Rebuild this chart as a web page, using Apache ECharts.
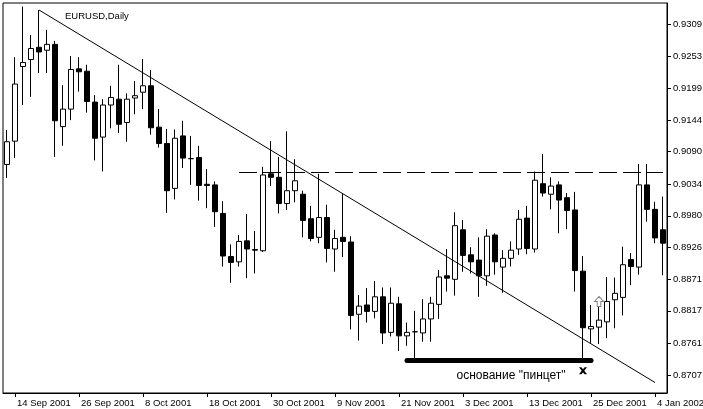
<!DOCTYPE html>
<html>
<head>
<meta charset="utf-8">
<script src="https://cdn.jsdelivr.net/npm/echarts@6/dist/echarts.min.js"></script>
<style>
html,body{margin:0;padding:0;background:#fff;}
#chart{width:703px;height:409px;}
</style>
</head>
<body>
<div id="chart"></div>
<script>
// Trading days
const dates = [
 "13 Sep 2001","14 Sep 2001","17 Sep 2001","18 Sep 2001","19 Sep 2001","20 Sep 2001","21 Sep 2001","24 Sep 2001","25 Sep 2001","26 Sep 2001","27 Sep 2001","28 Sep 2001",
 "1 Oct 2001","2 Oct 2001","3 Oct 2001","4 Oct 2001","5 Oct 2001","8 Oct 2001","9 Oct 2001","10 Oct 2001","11 Oct 2001","12 Oct 2001","15 Oct 2001","16 Oct 2001","17 Oct 2001","18 Oct 2001","19 Oct 2001","22 Oct 2001","23 Oct 2001","24 Oct 2001","25 Oct 2001","26 Oct 2001","29 Oct 2001","30 Oct 2001","31 Oct 2001",
 "1 Nov 2001","2 Nov 2001","5 Nov 2001","6 Nov 2001","7 Nov 2001","8 Nov 2001","9 Nov 2001","12 Nov 2001","13 Nov 2001","14 Nov 2001","15 Nov 2001","16 Nov 2001","19 Nov 2001","20 Nov 2001","21 Nov 2001","22 Nov 2001","23 Nov 2001","26 Nov 2001","27 Nov 2001","28 Nov 2001","29 Nov 2001","30 Nov 2001",
 "3 Dec 2001","4 Dec 2001","5 Dec 2001","6 Dec 2001","7 Dec 2001","10 Dec 2001","11 Dec 2001","12 Dec 2001","13 Dec 2001","14 Dec 2001","17 Dec 2001","18 Dec 2001","19 Dec 2001","20 Dec 2001","21 Dec 2001","24 Dec 2001","25 Dec 2001","26 Dec 2001","27 Dec 2001","28 Dec 2001","31 Dec 2001",
 "1 Jan 2002","2 Jan 2002","3 Jan 2002","4 Jan 2002","7 Jan 2002"
];
const opens = [
 0.9068,0.9108,0.9236,0.9248,0.9269,0.9264,0.9274,0.9133,0.9163,0.9232,0.9228,0.9175,
 0.9115,0.9170,0.9180,0.9140,0.9182,0.9192,0.9203,0.9132,0.9104,0.9027,0.9117,0.9078,0.9080,0.9034,0.9033,0.8984,0.8910,0.8901,0.8937,0.8922,0.8920,0.9052,0.9046,
 0.9001,0.9023,0.9017,0.8975,0.8943,0.8977,0.8923,0.8943,0.8935,0.8811,0.8827,0.8816,0.8841,0.8780,0.8829,0.8774,0.8781,0.8779,0.8803,0.8828,0.8877,0.8871,
 0.8956,0.8913,0.8904,0.8877,0.8947,0.8892,0.8907,0.8923,0.8976,0.8923,0.9035,0.9017,0.9033,0.9011,0.8990,0.8885,0.8786,0.8789,0.8798,0.8836,0.8840,
 0.8905,0.8892,0.9033,0.8991,0.8956
];
const closes = [
 0.9107,0.9206,0.9243,0.9267,0.9261,0.9274,0.9143,0.9163,0.9231,0.9227,0.9176,0.9113,
 0.9170,0.9183,0.9137,0.9180,0.9186,0.9203,0.9131,0.9104,0.9023,0.9113,0.9079,0.9078,0.9032,0.9032,0.8987,0.8911,0.8900,0.8936,0.8923,0.8921,0.9050,0.9046,0.9001,
 0.9023,0.9040,0.8972,0.8941,0.8977,0.8924,0.8941,0.8936,0.8809,0.8825,0.8816,0.8841,0.8779,0.8830,0.8774,0.8780,0.8781,0.8803,0.8830,0.8875,0.8873,0.8963,
 0.8912,0.8901,0.8877,0.8945,0.8901,0.8907,0.8921,0.8974,0.8924,0.9041,0.9019,0.9031,0.9007,0.8989,0.8886,0.8788,0.8790,0.8801,0.8833,0.8847,0.8896,
 0.8893,0.9033,0.8991,0.8942,0.8933
];
const lows = [
 0.9045,0.9079,0.9170,0.9184,0.9225,0.9225,0.9081,0.9100,0.9144,0.9193,0.9157,0.9075,
 0.9056,0.9130,0.9122,0.9107,0.9154,0.9163,0.9119,0.9097,0.8985,0.9008,0.9062,0.9033,0.9006,0.8993,0.8961,0.8893,0.8865,0.8893,0.8873,0.8881,0.8918,0.9031,0.8984,
 0.8990,0.9003,0.8943,0.8936,0.8933,0.8900,0.8884,0.8909,0.8785,0.8766,0.8797,0.8804,0.8760,0.8773,0.8748,0.8757,0.8734,0.8764,0.8764,0.8803,0.8850,0.8843,
 0.8884,0.8881,0.8841,0.8860,0.8879,0.8848,0.8893,0.8913,0.8914,0.8917,0.9013,0.8991,0.8950,0.8957,0.8850,0.8734,0.8762,0.8760,0.8770,0.8787,0.8809,
 0.8861,0.8879,0.8970,0.8933,0.8878
];
const highs = [
 0.9127,0.9252,0.9339,0.9290,0.9333,0.9299,0.9280,0.9204,0.9254,0.9252,0.9239,0.9187,
 0.9180,0.9203,0.9239,0.9190,0.9211,0.9249,0.9230,0.9163,0.9129,0.9128,0.9143,0.9117,0.9100,0.9060,0.9039,0.9005,0.8931,0.8947,0.8983,0.8954,0.9064,0.9108,0.9081,
 0.9125,0.9077,0.9023,0.8997,0.9052,0.8999,0.8956,0.9019,0.8945,0.8844,0.8856,0.8868,0.8857,0.8857,0.8841,0.8797,0.8817,0.8837,0.8841,0.8887,0.8923,0.8986,
 0.8973,0.8926,0.8943,0.8957,0.8950,0.8921,0.8936,0.8990,0.8997,0.9056,0.9086,0.9046,0.9039,0.9019,0.9021,0.8911,0.8827,0.8824,0.8875,0.8874,0.8927,
 0.8916,0.9069,0.9069,0.9004,0.9013
];
const priceTicks = [0.9309,0.9253,0.9199,0.9144,0.9090,0.9034,0.8980,0.8926,0.8871,0.8817,0.8761,0.8707];
const yMin = 0.8676, yMax = 0.9345;

// annotations
const trendStart = ["19 Sep 2001", 0.9333];
const trendEnd = ["4 Jan 2002", 0.8694];
const resistanceLevel = 0.9055;
const resistanceFrom = "24 Oct 2001", resistanceTo = "7 Jan 2002";
const supportLevel = 0.8732;
const supportFrom = "22 Nov 2001", supportTo = "25 Dec 2001";
const noteText = 'основание "пинцет"';
const notePos = ["11 Dec 2001", 0.8705];
const crossPos = ["24 Dec 2001", 0.8714];
const arrowPos = ["26 Dec 2001", 0.8833];
const titleText = "EURUSD,Daily";

const candleData = dates.map((d, i) => [opens[i], closes[i], lows[i], highs[i]]);
const uiFont = "'Liberation Sans',Arial,sans-serif";

const chart = echarts.init(document.getElementById('chart'), null, {renderer: 'canvas'});
chart.setOption({
  animation: false,
  backgroundColor: '#fff',
  title: {
    text: titleText, left: 60, top: 6,
    textStyle: {fontSize: 9.5, fontWeight: 'normal', color: '#000', fontFamily: uiFont}
  },
  grid: {left: 3, right: 36, top: 3, bottom: 16, show: true, borderColor: '#000', borderWidth: 1,
         backgroundColor: '#fff', containLabel: false, outerBoundsMode: 'none'},
  xAxis: {
    type: 'category', data: dates, boundaryGap: true,
    axisLine: {show: true, lineStyle: {color: '#000', width: 1}},
    axisTick: {show: true, alignWithLabel: true, length: 4, interval: (i) => i % 8 === 1, lineStyle: {color: '#000'}},
    axisLabel: {show: true, interval: (i) => i % 8 === 1, align: 'left', margin: 5, padding: [0,0,0,2],
                color: '#000', fontSize: 9.5, fontFamily: uiFont, hideOverlap: false},
    splitLine: {show: false}
  },
  yAxis: {
    type: 'value', position: 'right', min: yMin, max: yMax, scale: true,
    axisLine: {show: true, lineStyle: {color: '#000', width: 1}},
    axisTick: {show: true, length: 4, customValues: priceTicks, lineStyle: {color: '#000'}},
    axisLabel: {show: true, customValues: priceTicks, margin: 6, color: '#000', fontSize: 9.5, fontFamily: uiFont,
      formatter: (v) => v.toFixed(4)},
    splitLine: {show: false}
  },
  series: [{
    type: 'candlestick',
    data: candleData,
    barWidth: 5,
    itemStyle: {color: '#fff', color0: '#000', borderColor: '#000', borderColor0: '#000', borderColorDoji: '#000', borderWidth: 1},
    markLine: {
      silent: true, symbol: ['none', 'none'], label: {show: false},
      data: [
        [{coord: trendStart, lineStyle: {color: '#000', width: 1, type: 'solid'}}, {coord: trendEnd}],
        [{coord: [resistanceFrom, resistanceLevel], lineStyle: {color: '#000', width: 1, type: [18, 6]}}, {coord: [resistanceTo, resistanceLevel]}],
        [{coord: [supportFrom, supportLevel], lineStyle: {color: '#000', width: 5, type: 'solid', cap: 'round'}}, {coord: [supportTo, supportLevel]}]
      ]
    },
    markPoint: {
      silent: true,
      data: [
        {coord: notePos, symbol: 'rect', symbolSize: 1, itemStyle: {color: 'rgba(0,0,0,0)'},
          label: {show: true, position: 'inside', formatter: noteText, color: '#000', fontSize: 12, fontFamily: uiFont}},
        {coord: crossPos, symbol: 'path://M0,0L3,0L5,2.2L7,0L10,0L6.6,4L10,8L7,8L5,5.8L3,8L0,8L3.4,4Z', symbolSize: [8, 7],
          itemStyle: {color: '#000'}, label: {show: false}},
        {coord: arrowPos, symbol: 'path://M5,0L10,5L7,5L7,10L3,10L3,5L0,5Z', symbolSize: [9, 10],
          itemStyle: {color: '#fff', borderColor: '#808080', borderWidth: 1}, label: {show: false}}
      ]
    }
  }]
});
</script>
</body>
</html>
